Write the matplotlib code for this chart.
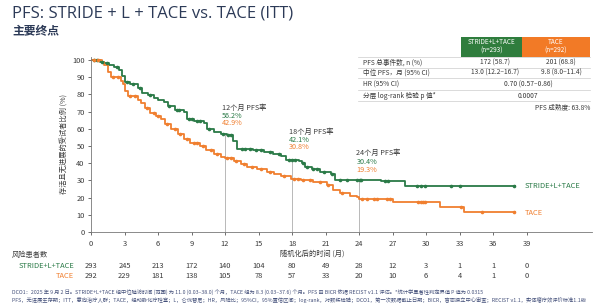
import numpy as np
import matplotlib
matplotlib.use("Agg")
import matplotlib.pyplot as plt
from matplotlib.patches import Rectangle
from matplotlib.lines import Line2D
import matplotlib.transforms as mtransforms

plt.rcParams['font.family'] = ['Noto Sans CJK SC', 'DejaVu Sans']

# ---------------- data ----------------
green_t = [0, 0.8, 1.2, 1.6, 2.1, 2.5, 2.8, 3.0, 3.5, 4.2, 4.6, 5.1, 5.6, 6.0, 6.5, 6.9, 7.5, 8.3, 8.6,
           9.2, 10.1, 10.4, 11.0, 11.6, 12.2, 12.7, 13.1, 14.5, 15.5, 16.3, 17.0, 17.5, 18.6, 18.9, 19.2,
           19.8, 20.5, 21.5, 21.8, 26.0, 28.1, 38.0]
green_s = [100, 99, 98, 97, 96, 94, 91, 87, 86, 84, 81, 79.5, 78, 77, 75.5, 73, 71, 70, 66,
           64.5, 63.5, 60, 58, 57, 56.2, 53, 48.5, 47.5, 46.5, 45.5, 44, 42.1, 41.5, 40, 38,
           36.5, 35, 34, 30.4, 29.7, 26.8, 26.8]
green_cens = [0.3, 0.5, 1.0, 1.4, 2.3, 3.2, 3.8, 4.4, 5.3, 7.0, 7.7, 7.9, 8.8, 9.0, 9.5, 9.8, 10.6, 11.8,
              12.3, 12.5, 13.5, 13.8, 14.2, 14.8, 15.2, 16.0, 16.8, 17.7, 18.0, 18.3, 19.0, 19.3, 19.9,
              20.2, 20.9, 21.6, 22.3, 22.9, 23.8, 24.1, 24.2, 26.3, 26.6, 29.2, 29.5, 29.9, 32.2, 33.0, 37.9]

orange_t = [0, 1.0, 1.2, 1.5, 1.8, 2.7, 2.85, 3.0, 3.3, 4.2, 4.5, 4.8, 5.3, 5.8, 6.3, 6.6, 7.2, 7.8, 8.3,
            8.9, 9.8, 10.3, 11.0, 11.6, 12.0, 12.8, 13.4, 14.0, 14.9, 15.8, 16.4, 17.0, 17.9, 18.8, 19.9,
            21.1, 21.7, 22.3, 23.2, 23.8, 24.0, 27.0, 31.2, 33.4, 38.0]
orange_s = [100, 99, 97, 93, 90, 88, 86, 82, 79, 77, 75, 72, 69, 67.5, 65.5, 63, 60, 57, 54,
            51.5, 50, 47.5, 45.5, 43.5, 42.9, 41, 39.5, 38, 36.5, 35, 34, 32.5, 30.8, 30.2, 29.3,
            27.3, 24.4, 22.5, 21, 20.3, 19.3, 17.7, 14.8, 11.6, 11.6]
orange_cens = [0.3, 0.6, 2.0, 2.4, 3.5, 3.9, 5.0, 5.6, 6.0, 6.8, 7.5, 8.0, 8.6, 9.2, 9.5, 10.0, 10.7, 11.3,
               12.2, 12.5, 13.0, 13.7, 14.4, 15.2, 16.0, 17.3, 18.2, 18.5, 19.0, 19.6, 20.5, 21.2, 22.5,
               24.3, 24.7, 25.3, 25.6, 26.5, 26.8, 29.3, 29.5, 29.7, 29.9, 33.1, 35.0, 37.9]

x_ticks = list(range(0, 40, 3))
risk_green = [293, 245, 213, 172, 140, 104, 80, 49, 28, 12, 3, 1, 1, 0]
risk_orange = [292, 229, 181, 138, 105, 78, 57, 33, 20, 10, 6, 4, 1, 0]

landmarks = [12, 18, 24]
lm_green = ["56.2%", "42.1%", "30.4%"]
lm_orange = ["42.9%", "30.8%", "19.3%"]

table_rows = ["PFS 总事件数, n (%)", "中位 PFS，月 (95% CI)", "HR (95% CI)", "分层 log-rank 检验 p 值*"]
table_green = ["172 (58.7)", "13.0 (12.2–16.7)"]
table_orange = ["201 (68.8)", "9.8 (8.0–11.4)"]
table_merged = ["0.70 (0.57–0.86)", "0.0007"]

GREEN = '#2a7a47'
ORANGE = '#f07f2f'
NAVY = '#2c3a57'
TXT = '#3a3a3a'

W, H = 600, 307
fig = plt.figure(figsize=(6.0, 3.07), dpi=100)

def fx(x):
    return x / W

def fy(y):
    return 1 - y / H

ax = fig.add_axes([fx(91), fy(232), fx(592) - fx(91), fy(56.6) - fy(232)])
ax.set_xlim(0, 44.85)
ax.set_ylim(0, 102)

ax.step(green_t, green_s, where='post', color=GREEN, lw=1.3)
ax.step(orange_t, orange_s, where='post', color=ORANGE, lw=1.3)

def cens_y(t, s, c):
    t = np.asarray(t); s = np.asarray(s)
    idx = np.searchsorted(t, np.asarray(c), side='right') - 1
    return s[idx]

ax.plot(green_cens, cens_y(green_t, green_s, green_cens), 'o', color=GREEN, ms=2.6, mew=0)
ax.plot(orange_cens, cens_y(orange_t, orange_s, orange_cens), 'o', color=ORANGE, ms=2.6, mew=0)

lm_text_y = [(72, 67.4, 63.4), (58, 53.5, 49.4), (46, 40.9, 36.2)]
for m, g, o, ys in zip(landmarks, lm_green, lm_orange, lm_text_y):
    gv = cens_y(green_t, green_s, [m])[0]
    ax.plot([m, m], [0, gv], color='#b8b8b8', lw=0.7, zorder=0)
    ax.text(m - 0.25, ys[0], f"{m}个月 PFS率", fontsize=5.2, color=TXT, va='center', ha='left')
    ax.text(m - 0.25, ys[1], g, fontsize=5.2, color=GREEN, va='center', ha='left')
    ax.text(m - 0.25, ys[2], o, fontsize=5.2, color=ORANGE, va='center', ha='left')

ax.text(38.8, 26.8, "STRIDE+L+TACE", fontsize=5.4, color=GREEN, va='center', ha='left')
ax.text(38.8, 11.2, "TACE", fontsize=5.4, color=ORANGE, va='center', ha='left')

ax.set_xticks(x_ticks)
ax.set_yticks(range(0, 101, 10))
ax.tick_params(labelsize=5.4, colors='#555555', length=2.5, width=0.6, pad=2)
for lab in ax.get_xticklabels() + ax.get_yticklabels():
    lab.set_color(TXT)
ax.tick_params(axis='x', pad=3.5)
for sp in ['top', 'right']:
    ax.spines[sp].set_visible(False)
for sp in ['left', 'bottom']:
    ax.spines[sp].set_color('#777777')
    ax.spines[sp].set_linewidth(0.6)

ax.set_ylabel("存活且无进展的受试者比例 (%)", fontsize=5.2, color=TXT, labelpad=3)
fig.text(fx(312), fy(254), "随机化后的时间 (月)", fontsize=5.2, color=TXT, ha='center', va='center')

trans = mtransforms.blended_transform_factory(ax.transData, fig.transFigure)
fig.text(fx(12), fy(255), "风险患者数", fontsize=5.2, color=TXT, ha='left', va='center')
fig.text(fx(74), fy(266.5), "STRIDE+L+TACE", fontsize=5.4, color=GREEN, ha='right', va='center')
fig.text(fx(74), fy(275.5), "TACE", fontsize=5.4, color=ORANGE, ha='right', va='center')
for xt, rg, ro in zip(x_ticks, risk_green, risk_orange):
    ax.text(xt, fy(266.5), str(rg), transform=trans, fontsize=5.4, color=TXT, ha='center', va='center')
    ax.text(xt, fy(275.5), str(ro), transform=trans, fontsize=5.4, color=TXT, ha='center', va='center')

fig.text(fx(12), fy(14), "PFS: STRIDE + L + TACE vs. TACE (ITT)", fontsize=12, color=NAVY,
         ha='left', va='center', family=['Open Sans', 'DejaVu Sans'])
fig.text(fx(12), fy(32), "主要终点", fontsize=8.5, color=NAVY, ha='left', va='center', fontweight='bold')

fig.patches.append(Rectangle((fx(461), fy(56.5)), fx(522) - fx(461), fy(37) - fy(56.5),
                             transform=fig.transFigure, facecolor='#2f7d3d', edgecolor='none'))
fig.patches.append(Rectangle((fx(522), fy(56.5)), fx(590) - fx(522), fy(37) - fy(56.5),
                             transform=fig.transFigure, facecolor='#f27a26', edgecolor='none'))
fig.text(fx(491.5), fy(42.5), "STRIDE+L+TACE", fontsize=4.6, color='white', ha='center', va='center')
fig.text(fx(491.5), fy(50.5), "(n=293)", fontsize=4.6, color='white', ha='center', va='center')
fig.text(fx(556), fy(42.5), "TACE", fontsize=4.6, color='white', ha='center', va='center')
fig.text(fx(556), fy(50.5), "(n=292)", fontsize=4.6, color='white', ha='center', va='center')

row_y = [62.3, 72.7, 84.3, 95.7]
for i, (lab, yy) in enumerate(zip(table_rows, row_y)):
    fig.text(fx(363), fy(yy), lab, fontsize=4.8, color=TXT, ha='left', va='center')
    fig.add_artist(Line2D([fx(358), fx(590)], [fy(yy + 5.6), fy(yy + 5.6)], transform=fig.transFigure,
                          color='#cccccc', lw=0.5))
    if i < 2:
        fig.text(fx(495), fy(yy), table_green[i], fontsize=4.8, color=TXT, ha='center', va='center')
        fig.text(fx(561), fy(yy), table_orange[i], fontsize=4.8, color=TXT, ha='center', va='center')
    else:
        fig.text(fx(528), fy(yy), table_merged[i - 2], fontsize=4.8, color=TXT, ha='center', va='center')
fig.add_artist(Line2D([fx(358), fx(590)], [fy(56.8), fy(56.8)], transform=fig.transFigure,
                      color='#cccccc', lw=0.5))
fig.text(fx(590), fy(107.5), "PFS 成熟度: 63.8%", fontsize=4.8, color=TXT, ha='right', va='center',
         style='italic')

fn1 = ("DCO1：2025 年 9 月 2 日。STRIDE+L+TACE 组中位随访时间 (范围) 为 11.0 (0.03–38.0) 个月，TACE 组为 8.3 (0.03–37.6) 个月。"
       "PFS 由 BICR 依据 RECIST v1.1 评估。*统计学显著性判定界值 P 值为 0.0315")
fn2 = ("PFS，无进展生存期；ITT，意向治疗人群；TACE，经动脉化疗栓塞；L，仑伐替尼；HR，风险比；95%CI，95%置信区间；"
       "log-rank，对数秩检验；DCO1，第一次数据截止日期；BICR，盲态独立中心审查；RECIST v1.1，实体瘤疗效评价标准1.1版")
fig.text(fx(12), fy(292), fn1, fontsize=3.8, color='#44507a', ha='left', va='center')
fig.text(fx(12), fy(299.5), fn2, fontsize=3.8, color='#44507a', ha='left', va='center')

fig.savefig("out.png", dpi=100)
